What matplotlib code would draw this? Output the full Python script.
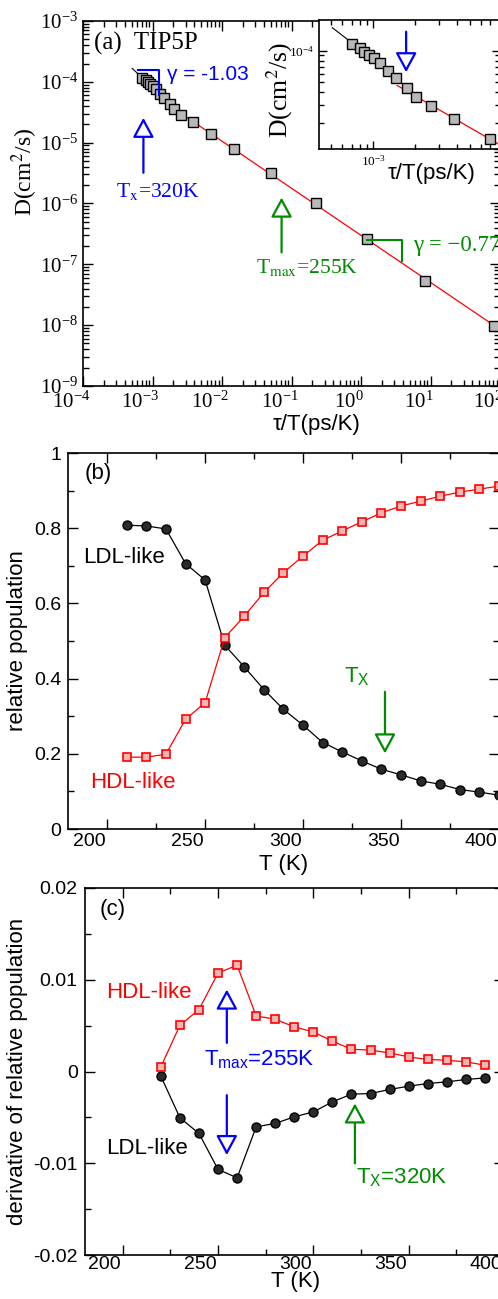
import numpy as np
import matplotlib
matplotlib.use("Agg")
import matplotlib.pyplot as plt
from matplotlib.patches import FancyArrowPatch
from matplotlib.ticker import MultipleLocator, LogLocator, NullFormatter, FixedLocator, FixedFormatter
from matplotlib.transforms import ScaledTranslation

SERIF = "Liberation Serif"
SANS = "Liberation Sans"
plt.rcParams["font.family"] = SANS
plt.rcParams["mathtext.fontset"] = "custom"
plt.rcParams["mathtext.rm"] = SANS
plt.rcParams["mathtext.it"] = SANS + ":italic"

RED = "#ff0000"
BLUE = "#0000ff"
GREEN = "#008b00"

# ---- panel (a): diffusion coefficient vs tau/T
tau_over_T = [7.05e-4, 8.00e-4, 8.55e-4, 9.29e-4, 1.021e-3, 1.117e-3, 1.276e-3, 1.452e-3,
              1.762e-3, 2.028e-3, 2.600e-3, 3.80e-3, 6.97e-3, 1.48e-2, 5.13e-2,
              0.227, 1.22, 8.2, 82.0]
D = [1.159e-4, 1.054e-4, 9.77e-5, 9.10e-5, 8.45e-5, 7.57e-5, 6.38e-5, 5.50e-5,
     4.35e-5, 3.56e-5, 2.90e-5, 2.20e-5, 1.406e-5, 8.0e-6, 3.2e-6,
     1.03e-6, 2.57e-7, 5.3e-8, 9.6e-9]
# power law fits D ~ (tau/T)^gamma
gamma_hi = -1.03
fit_hi_anchor = (5.09e-4, 1.66e-4)
fit_hi_range = (5.09e-4, 1.56e-3)
gamma_lo = -0.774
fit_lo_anchor = (1.22, 2.57e-7)
fit_lo_range = (1.49e-3, 100.0)

# ---- panel (b): relative population
T_pop = [210, 220, 230, 240, 250, 260, 270, 280, 290, 300,
         310, 320, 330, 340, 350, 360, 370, 380, 390, 400]
ldl_pop = [0.808, 0.806, 0.798, 0.706, 0.662, 0.489, 0.431, 0.371, 0.318, 0.276,
           0.230, 0.205, 0.181, 0.159, 0.144, 0.128, 0.119, 0.105, 0.098, 0.090]
hdl_pop = [0.191, 0.191, 0.199, 0.292, 0.336, 0.509, 0.566, 0.629, 0.682, 0.726,
           0.768, 0.793, 0.817, 0.841, 0.859, 0.872, 0.885, 0.896, 0.904, 0.912]

# ---- panel (c): derivative of relative population
T_der = [220, 230, 240, 250, 260, 270, 280, 290, 300,
         310, 320, 330, 340, 350, 360, 370, 380, 390]
hdl_der = [0.0005, 0.00504, 0.00675, 0.01074, 0.01158, 0.00605, 0.00570, 0.00486, 0.00431,
           0.00330, 0.00243, 0.00232, 0.00203, 0.00159, 0.00131, 0.00123, 0.00105, 0.00069]
ldl_der = [-0.00051, -0.00505, -0.00675, -0.01067, -0.01159, -0.00603, -0.00566, -0.00494, -0.00440,
           -0.00331, -0.00247, -0.00240, -0.00196, -0.00160, -0.00131, -0.00113, -0.00087, -0.00070]

W, H = 498, 1299
fig = plt.figure(figsize=(W / 100, H / 100), dpi=100)


def box(left, top, right, bottom):
    # pixel box -> figure fraction rect
    return [left / W, 1 - bottom / H, (right - left) / W, (bottom - top) / H]


def ftext(x, y, s, **kw):
    kw.setdefault("va", "center")
    kw.setdefault("ha", "left")
    return fig.text(x / W, 1 - y / H, s, **kw)


def arrow(ax, x, y0, y1, color):
    ax.add_patch(FancyArrowPatch((x, y0), (x, y1),
                                 arrowstyle="-|>,head_length=12,head_width=6.5",
                                 mutation_scale=1, lw=1.6, ec=color, fc="white",
                                 shrinkA=0, shrinkB=0, zorder=6))


def fit_line(anchor, gamma, xr):
    x = np.logspace(np.log10(xr[0]), np.log10(xr[1]), 50)
    return x, anchor[1] * (x / anchor[0]) ** gamma


def style(ax, fam, size):
    ax.tick_params(which="both", direction="in", top=True, right=True, width=1.0,
                   labelsize=size, labelfontfamily=fam)
    ax.tick_params(which="major", length=7)
    ax.tick_params(which="minor", length=4)
    for sp in ax.spines.values():
        sp.set_linewidth(1.2)


# ================= (a)
ax = fig.add_axes(box(83, 21, 500, 386))
ax.set_xscale("log")
ax.set_yscale("log")
ax.set_xlim(1e-4, 1e2)
ax.set_ylim(1e-9, 1e-3)
ax.xaxis.set_major_locator(LogLocator(base=10, numticks=20))
ax.yaxis.set_major_locator(LogLocator(base=10, numticks=20))
ax.xaxis.set_minor_locator(LogLocator(base=10, subs=np.arange(2, 10), numticks=100))
ax.yaxis.set_minor_locator(LogLocator(base=10, subs=np.arange(2, 10), numticks=100))
ax.xaxis.set_minor_formatter(NullFormatter())
ax.yaxis.set_minor_formatter(NullFormatter())
style(ax, SERIF, 15)
ax.tick_params(axis="x", pad=4)

xh, yh = fit_line(fit_hi_anchor, gamma_hi, fit_hi_range)
xl, yl = fit_line(fit_lo_anchor, gamma_lo, fit_lo_range)
ax.plot(xh, yh, color="black", lw=0.8, zorder=2)
ax.plot(xl, yl, color=RED, lw=0.9, zorder=2)
ax.plot(tau_over_T, D, "s", ms=7, mfc="#b8b8b8", mec="black", mew=1.0, zorder=3, clip_on=False)

# slope triangles
ax.plot([6.17e-4, 1.23e-3, 1.23e-3], [1.57e-4, 1.57e-4, 6.12e-5], color=BLUE, lw=1.5, zorder=4)
ax.plot([1.22, 3.85, 3.85], [2.50e-7, 2.50e-7, 1.13e-7], color=GREEN, lw=1.5, zorder=4)
arrow(ax, 7.4e-4, 3.2e-6, 2.56e-5, BLUE)
arrow(ax, 0.072, 1.57e-7, 1.25e-6, GREEN)

ax.set_ylabel("D(cm$^2$/s)", fontsize=17, fontfamily=SERIF, math_fontfamily="stix")
ax.yaxis.set_label_coords(-0.103, 0.586)
ax.set_xlabel("τ/T(ps/K)", fontsize=16)
ax.xaxis.set_label_coords(0.559, -0.077)

ftext(94, 43, "(a)  TIP5P", fontsize=18, fontfamily=SERIF)
ftext(167, 75, "γ = -1.03", fontsize=15, color=BLUE)
ftext(116, 192, "T$_\\mathrm{x}$=320K", fontsize=15.5, color=BLUE, fontfamily=SERIF, math_fontfamily="stix")
ftext(256, 268, "T$_\\mathrm{max}$=255K", fontsize=15.5, color=GREEN, fontfamily=SERIF, math_fontfamily="stix")
ftext(413, 245, "γ = −0.774", fontsize=16.5, color=GREEN, fontfamily=SERIF)

# inset
ai = fig.add_axes(box(319, 20, 500, 149))
ai.set_xscale("log")
ai.set_yscale("log")
ai.set_xlim(4.08e-4, 8.2e-3)
ai.set_ylim(1.13e-5, 1.97e-4)
ai.xaxis.set_minor_formatter(NullFormatter())
ai.yaxis.set_minor_formatter(NullFormatter())
style(ai, SERIF, 9.5)
ai.tick_params(which="major", length=6)
ai.tick_params(which="minor", length=3.5)
ai.plot(xh, yh, color="black", lw=0.8, zorder=2)
ai.plot(xl, yl, color=RED, lw=0.9, zorder=2)
ai.plot(tau_over_T, D, "s", ms=7, mfc="#b8b8b8", mec="black", mew=1.0, zorder=3)
arrow(ai, 1.73e-3, 1.52e-4, 6.19e-5, BLUE)
ai.set_ylabel("D(cm$^2$/s)", fontsize=18.5, fontfamily=SERIF, math_fontfamily="stix")
ai.yaxis.set_label_coords(-0.133, 0.46)
ai.set_xlabel("τ/T(ps/K)", fontsize=16)
ai.xaxis.set_label_coords(0.62, -0.11)

# ================= (b)
bx = fig.add_axes(box(68, 453, 499, 829))
bx.set_xlim(180, 400)
bx.set_ylim(0, 1)
bx.xaxis.set_major_locator(FixedLocator([200, 250, 300, 350, 400]))
bx.xaxis.set_major_formatter(FixedFormatter(["200", "250", "300", "350", "400"]))
bx.xaxis.set_minor_locator(MultipleLocator(25))
bx.yaxis.set_major_locator(FixedLocator([0, 0.2, 0.4, 0.6, 0.8, 1.0]))
bx.yaxis.set_major_formatter(FixedFormatter(["0", "0.2", "0.4", "0.6", "0.8", "1"]))
bx.yaxis.set_minor_locator(MultipleLocator(0.1))
style(bx, SANS, 14)
bx.tick_params(axis="y", pad=5)
bx.tick_params(axis="x", pad=3)
bx.plot(T_pop, ldl_pop, "-o", color="black", lw=0.9, ms=6.5, mfc="#2a2a2a", mec="black",
        mew=1.0, zorder=3, clip_on=False)
bx.plot(T_pop, hdl_pop, "-s", color=RED, lw=0.9, ms=6.3, mfc="#f6b4b4", mec=RED,
        mew=1.2, zorder=4, clip_on=False)
arrow(bx, 341.8, 0.365, 0.201, GREEN)
bx.set_ylabel("relative population", fontsize=16)
bx.yaxis.set_label_coords(-0.093, 0.5)
bx.set_xlabel("T (K)", fontsize=16)
bx.xaxis.set_label_coords(0.501, -0.066)
ftext(85, 473, "(b)", fontsize=16)
ftext(83, 558, "LDL-like", fontsize=16)
ftext(90, 782, "HDL-like", fontsize=16, color=RED)
ftext(344, 677, "T$_\\mathrm{X}$", fontsize=16, color=GREEN)

# ================= (c)
cx = fig.add_axes(box(84.6, 888, 504, 1255))
cx.set_xlim(180, 400)
cx.set_ylim(-0.02, 0.02)
cx.xaxis.set_major_locator(FixedLocator([200, 250, 300, 350, 400]))
cx.xaxis.set_major_formatter(FixedFormatter(["200", "250", "300", "350", "400"]))
cx.xaxis.set_minor_locator(MultipleLocator(25))
cx.yaxis.set_major_locator(FixedLocator([-0.02, -0.01, 0, 0.01, 0.02]))
cx.yaxis.set_major_formatter(FixedFormatter(["-0.02", "-0.01", "0", "0.01", "0.02"]))
cx.yaxis.set_minor_locator(MultipleLocator(0.005))
style(cx, SANS, 14)
cx.tick_params(axis="y", pad=5)
cx.tick_params(axis="x", pad=1)
cx.plot(T_der, ldl_der, "-o", color="black", lw=0.9, ms=6.5, mfc="#2a2a2a", mec="black",
        mew=1.0, zorder=3)
cx.plot(T_der, hdl_der, "-s", color=RED, lw=0.9, ms=6.3, mfc="#f6b4b4", mec=RED,
        mew=1.2, zorder=4)
arrow(cx, 254.6, 0.00312, 0.00893, BLUE)
arrow(cx, 254.6, -0.00258, -0.00911, BLUE)
arrow(cx, 321.8, -0.01002, -0.00348, GREEN)
cx.set_ylabel("derivative of relative population", fontsize=16)
cx.yaxis.set_label_coords(-0.135, 0.5)
cx.set_xlabel("T (K)", fontsize=16)
cx.xaxis.set_label_coords(0.502, -0.043)
ftext(100, 910, "(c)", fontsize=16)
ftext(106, 993, "HDL-like", fontsize=16, color=RED)
ftext(106, 1148, "LDL-like", fontsize=16)
ftext(204, 1060, "T$_\\mathrm{max}$=255K", fontsize=16, color=BLUE)
ftext(356, 1178, "T$_\\mathrm{X}$=320K", fontsize=16, color=GREEN)

# tick labels sit a bit left of their ticks in the original
fig.canvas.draw()
for a, dx in ((ax, -12), (bx, -18), (cx, -18)):
    off = ScaledTranslation(dx / 100, 0, fig.dpi_scale_trans)
    for t in a.xaxis.get_major_ticks():
        t.label1.set_transform(t.label1.get_transform() + off)

fig.savefig("out.png", dpi=100)
